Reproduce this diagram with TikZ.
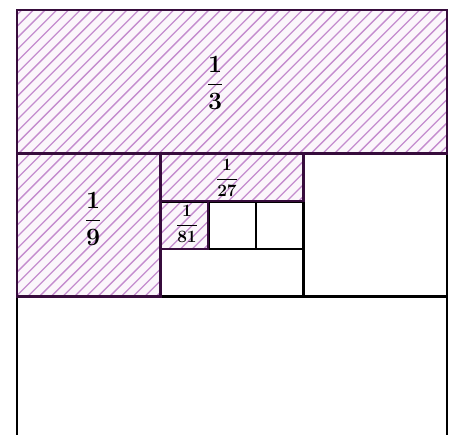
\documentclass[tikz,border=0pt]{standalone}
\usepackage{amsmath}
\definecolor{hatch}{RGB}{196,140,206}
\definecolor{shadebg}{RGB}{251,246,251}
\definecolor{edge}{RGB}{55,12,60}
\tikzset{
  shaded/.style={fill=shadebg},
  hatchline/.style={draw=hatch,line width=1.3pt},
  grid/.style={draw=black,line width=2.8pt,line cap=rect},
  rim/.style={draw=edge,line width=2.5pt,line cap=rect},
  lab/.style={inner sep=0pt,text=black}
}
\begin{document}
\begin{tikzpicture}[x=1pt,y=-1pt]
\useasboundingbox (0,0) rectangle (457,434);
\fill[white] (0,0) rectangle (457,434);
\clip (0,0) rectangle (457,434);
% shaded regions with hatching
\foreach \a/\b/\c/\d in {17/10/447/153.3, 17/153.3/160.3/296.7, 160.3/153.3/303.7/201.1, 160.3/201.1/208.1/248.9}{
  \fill[shaded] (\a,\b) rectangle (\c,\d);
  \begin{scope}
    \clip (\a,\b) rectangle (\c,\d);
    \foreach \k in {0,...,80}{
      \draw[hatchline] ({20+11.7*\k},0) -- ({20+11.7*\k-460},460);
    }
  \end{scope}
}
% grid
\draw[grid] (17,10) rectangle (447,440);
\draw[grid] (17,153.3) -- (447,153.3);
\draw[grid] (17,296.7) -- (447,296.7);
\draw[grid] (160.3,153.3) -- (160.3,296.7);
\draw[grid] (303.7,153.3) -- (303.7,296.7);
\draw[grid] (160.3,201.1) -- (303.7,201.1);
\draw[grid] (160.3,248.9) -- (303.7,248.9);
\draw[grid] (208.1,201.1) -- (208.1,248.9);
\draw[grid] (255.9,201.1) -- (255.9,248.9);
% borders of shaded regions
\draw[rim] (17,10) rectangle (447,153.3);
\draw[rim] (17,153.3) rectangle (160.3,296.7);
\draw[rim] (160.3,153.3) rectangle (303.7,201.1);
\draw[rim] (160.3,201.1) rectangle (208.1,248.9);
% labels
\node[lab,font=\fontsize{25}{29}\selectfont\boldmath] (l3) at (215,83) {$\dfrac{1}{3}$};
\node[lab,font=\fontsize{25}{29}\selectfont\boldmath] (l9) at (93,219) {$\dfrac{1}{9}$};
\node[lab,font=\fontsize{18}{21}\selectfont\boldmath] (l27) at (227,178) {$\dfrac{1}{27}$};
\node[lab,font=\fontsize{18}{21}\selectfont\boldmath] (l81) at (187,224) {$\dfrac{1}{81}$};
\end{tikzpicture}
\end{document}
